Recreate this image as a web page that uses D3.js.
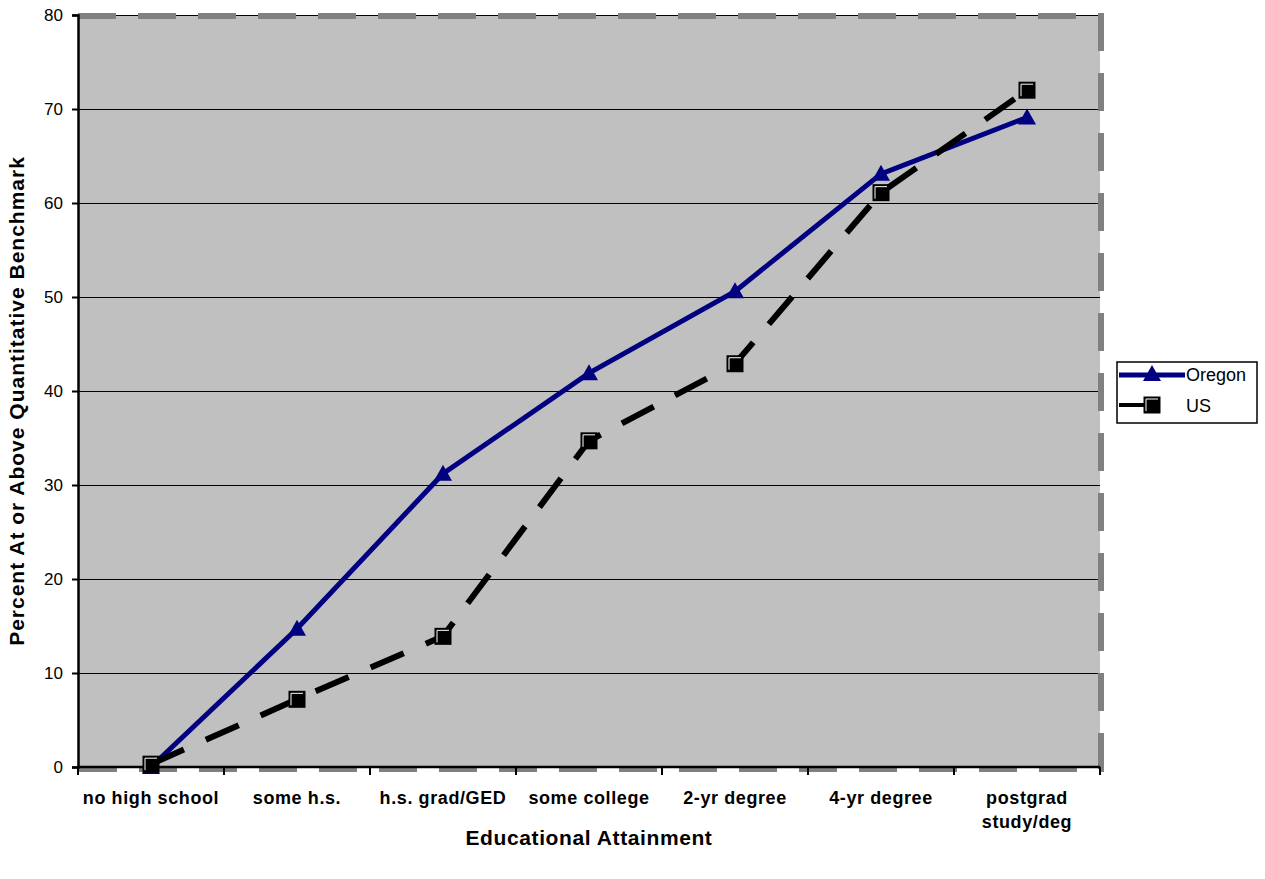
<!DOCTYPE html>
<html>
<head>
<meta charset="utf-8">
<script src="https://cdn.jsdelivr.net/npm/d3@7"></script>
<style>
  body { margin: 0; background: #fff; }
  text { font-family: "Liberation Sans", Arial, sans-serif; }
</style>
</head>
<body>
<svg id="chart"></svg>
<script>
// data
const categories = ['no high school', 'some h.s.', 'h.s. grad/GED', 'some college', '2-yr degree', '4-yr degree', 'postgrad study/deg'];
const oregon = [0, 14.7, 31.2, 41.9, 50.6, 63.1, 69.1];
const us = [0.3, 7.2, 13.9, 34.7, 42.9, 61.1, 72.0];
const yTicks = [0, 10, 20, 30, 40, 50, 60, 70, 80];

const W = 1265, H = 879;
const margin = { top: 15, right: 165, bottom: 112, left: 78 };
const width = W - margin.left - margin.right;   // 1022
const height = H - margin.top - margin.bottom;  // 752

const svg = d3.select('#chart').attr('width', W).attr('height', H);
const g = svg.append('g').attr('transform', `translate(${margin.left},${margin.top})`);

const x = d3.scaleBand().domain(categories).range([0, width]);
const y = d3.scaleLinear().domain([0, 80]).range([height, 0]);

// plot background
g.append('rect')
  .attr('width', width).attr('height', height)
  .attr('fill', '#c0c0c0');

// gridlines
g.selectAll('.grid')
  .data(yTicks.filter(d => d > 0))
  .enter().append('line')
  .attr('x1', 0).attr('x2', width)
  .attr('y1', d => Math.round(y(d)) + 0.5).attr('y2', d => Math.round(y(d)) + 0.5)
  .attr('stroke', '#000').attr('stroke-width', 1)
  .attr('shape-rendering', 'crispEdges');

// dashed gray border (top, right, bottom)
g.append('path')
  .attr('d', `M0,1 H${width + 1} V${height + 2} H0`)
  .attr('fill', 'none')
  .attr('stroke', '#808080')
  .attr('stroke-width', 6)
  .attr('stroke-dasharray', '38,22');

// y axis
const yAxis = g.append('g')
  .call(d3.axisLeft(y).tickValues(yTicks).tickSize(6).tickPadding(9));
yAxis.select('.domain').attr('stroke', '#000').attr('stroke-width', 2.5);
yAxis.selectAll('.tick line').attr('stroke', '#000').attr('stroke-width', 2);
yAxis.selectAll('text').style('font-size', '17px').attr('fill', '#000');

// x axis (ticks between categories)
const xAxisG = g.append('g').attr('transform', `translate(0,${height})`);
xAxisG.append('line')
  .attr('x1', -1).attr('x2', width)
  .attr('stroke', '#000').attr('stroke-width', 2.5);
const boundaries = categories.map(c => x(c)).concat([width]);
xAxisG.selectAll('.xtick')
  .data(boundaries)
  .enter().append('line')
  .attr('x1', d => d).attr('x2', d => d)
  .attr('y1', 0).attr('y2', 8)
  .attr('stroke', '#000').attr('stroke-width', 2);

const xLabels = xAxisG.selectAll('.xlabel')
  .data(categories)
  .enter().append('text')
  .attr('x', d => x(d) + x.bandwidth() / 2)
  .attr('text-anchor', 'middle')
  .style('font-size', '18px')
  .style('font-weight', 'bold')
  .style('letter-spacing', '0.6px')
  .attr('fill', '#000');
xLabels.each(function(d) {
  const t = d3.select(this);
  if (d === 'postgrad study/deg') {
    t.append('tspan').attr('x', x(d) + x.bandwidth() / 2).attr('y', 37).text('postgrad');
    t.append('tspan').attr('x', x(d) + x.bandwidth() / 2).attr('y', 61).text('study/deg');
  } else {
    t.attr('y', 37).text(d);
  }
});

// axis titles
svg.append('text')
  .attr('x', margin.left + width / 2)
  .attr('y', 845)
  .attr('text-anchor', 'middle')
  .style('font-size', '21px')
  .style('font-weight', 'bold')
  .style('letter-spacing', '0.6px')
  .text('Educational Attainment');

svg.append('text')
  .attr('transform', `translate(24,${margin.top + height / 2 + 10}) rotate(-90)`)
  .attr('text-anchor', 'middle')
  .style('font-size', '21px')
  .style('font-weight', 'bold')
  .style('letter-spacing', '1px')
  .text('Percent At or Above Quantitative Benchmark');

const cx = d => x(d) + x.bandwidth() / 2;
const line = vals => d3.line()
  .x((d, i) => cx(categories[i]))
  .y(d => y(d))(vals);

// Oregon line
g.append('path')
  .attr('d', line(oregon))
  .attr('fill', 'none')
  .attr('stroke', '#000080')
  .attr('stroke-width', 5);

// US line
g.append('path')
  .attr('d', line(us))
  .attr('fill', 'none')
  .attr('stroke', '#000')
  .attr('stroke-width', 6)
  .attr('stroke-dasharray', '36,24');

function drawTriangle(sel, px, py) {
  sel.append('path')
    .attr('d', `M${px},${py - 9} L${px + 9},${py + 7} L${px - 9},${py + 7} Z`)
    .attr('fill', '#000080');
}
function drawSquare(sel, px, py) {
  sel.append('rect')
    .attr('x', px - 8.5).attr('y', py - 8.5)
    .attr('width', 17).attr('height', 17)
    .attr('fill', '#000');
  sel.append('polyline')
    .attr('points', `${px - 6},${py + 6} ${px - 6},${py - 6} ${px + 6},${py - 6}`)
    .attr('fill', 'none')
    .attr('stroke', '#fff')
    .attr('stroke-width', 1);
}

oregon.forEach((v, i) => drawTriangle(g, cx(categories[i]), y(v)));
us.forEach((v, i) => drawSquare(g, cx(categories[i]), y(v)));

// legend
const legend = svg.append('g').attr('transform', 'translate(1117,362)');
legend.append('rect')
  .attr('width', 140).attr('height', 61)
  .attr('fill', '#fff')
  .attr('stroke', '#000')
  .attr('stroke-width', 1.5);

legend.append('line')
  .attr('x1', 2).attr('x2', 68).attr('y1', 13).attr('y2', 13)
  .attr('stroke', '#000080').attr('stroke-width', 5);
drawTriangle(legend, 35, 12);
legend.append('text')
  .attr('x', 69).attr('y', 19)
  .style('font-size', '18px')
  .text('Oregon');

legend.append('line')
  .attr('x1', 2).attr('x2', 30).attr('y1', 43).attr('y2', 43)
  .attr('stroke', '#000').attr('stroke-width', 4);
drawSquare(legend, 35, 43);
legend.append('text')
  .attr('x', 69).attr('y', 50)
  .style('font-size', '18px')
  .text('US');
</script>
</body>
</html>
